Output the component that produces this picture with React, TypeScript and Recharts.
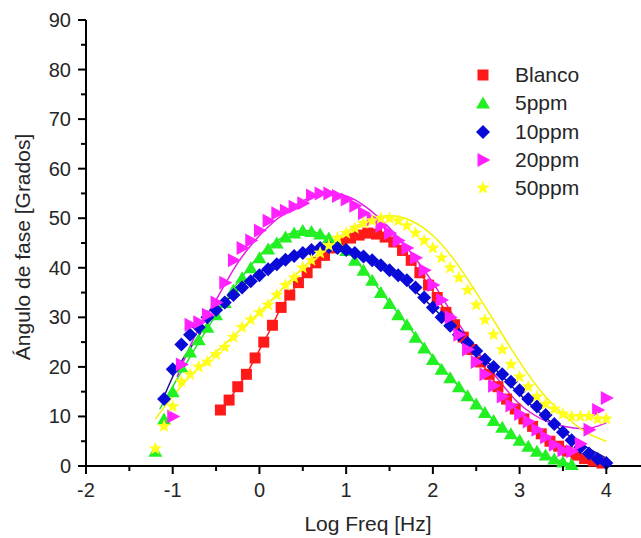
import {
  ComposedChart,
  Scatter,
  Line,
  XAxis,
  YAxis,
  Legend,
} from 'recharts';

// Frecuencias (log) y ángulos de fase
const blancoX = [-0.45, -0.35, -0.25, -0.15, -0.05, 0.05, 0.15, 0.25, 0.35, 0.45, 0.55, 0.65, 0.75, 0.85, 0.95, 1.05, 1.15, 1.25, 1.35, 1.45, 1.55, 1.65, 1.75, 1.85, 1.95, 2.05, 2.15, 2.25, 2.35, 2.45, 2.55, 2.65, 2.75, 2.85, 2.95, 3.05, 3.15, 3.25, 3.35, 3.45, 3.55, 3.65, 3.75, 3.85, 3.95];
const blancoY = [11.3, 13.3, 16, 18.5, 21.8, 25, 28.4, 32, 34.5, 37, 39, 41, 42.5, 44, 45.2, 46, 46.6, 47, 46.8, 46.2, 45.2, 43.5, 41.5, 39, 36.5, 34, 31, 28.5, 26, 23.5, 21, 18.5, 16, 13.5, 11.5, 9.5, 8, 6.5, 5, 4, 3, 2.2, 1.5, 1, 0.6];

const ppm5X = [-1.2, -1.1, -1.0, -0.9, -0.8, -0.7, -0.6, -0.5, -0.4, -0.3, -0.2, -0.1, 0, 0.1, 0.2, 0.3, 0.4, 0.5, 0.6, 0.7, 0.8, 0.9, 1.0, 1.1, 1.2, 1.3, 1.4, 1.5, 1.6, 1.7, 1.8, 1.9, 2.0, 2.1, 2.2, 2.3, 2.4, 2.5, 2.6, 2.7, 2.8, 2.9, 3.0, 3.1, 3.2, 3.3, 3.4, 3.5, 3.6];
const ppm5Y = [3, 9.5, 15, 20, 23, 25.5, 28, 30.5, 33, 35.5, 38, 40, 42, 43.8, 45, 46.2, 47, 47.5, 47.3, 46.8, 46, 45, 43.5, 41.5, 39.5, 37.5, 35, 32.8, 30.5, 28.5, 26, 23.8, 21.5, 19.5, 17.8, 16, 14.2, 12.5, 10.8, 9.2, 7.8, 6.5, 5.2, 4, 3, 2.2, 1.4, 0.8, 0.3];

const ppm10X = [-1.1, -1.0, -0.9, -0.8, -0.7, -0.6, -0.5, -0.4, -0.3, -0.2, -0.1, 0, 0.1, 0.2, 0.3, 0.4, 0.5, 0.6, 0.7, 0.8, 0.9, 1.0, 1.1, 1.2, 1.3, 1.4, 1.5, 1.6, 1.7, 1.8, 1.9, 2.0, 2.1, 2.2, 2.3, 2.4, 2.5, 2.6, 2.7, 2.8, 2.9, 3.0, 3.1, 3.2, 3.3, 3.4, 3.5, 3.6, 3.7, 3.8, 3.9, 4.0];
const ppm10Y = [13.5, 19.5, 24.5, 26.5, 28, 30, 31.5, 33, 34.5, 36, 37.3, 38.5, 39.7, 40.7, 41.6, 42.4, 43, 43.6, 44, 44.2, 44, 43.6, 43, 42.3, 41.5, 40.5, 39.5, 38.5, 37.5, 36, 34, 32, 30, 28.3, 26.5, 24.8, 23.2, 21.5, 20, 18.5, 17, 15.3, 13.5, 12, 10.3, 8.5, 6.8, 5.2, 3.8, 2.5, 1.4, 0.6];

const ppm20X = [-1.0, -0.9, -0.8, -0.7, -0.6, -0.5, -0.4, -0.3, -0.2, -0.1, 0, 0.1, 0.2, 0.3, 0.4, 0.5, 0.6, 0.7, 0.8, 0.9, 1.0, 1.1, 1.2, 1.3, 1.4, 1.5, 1.6, 1.7, 1.8, 1.9, 2.0, 2.1, 2.2, 2.3, 2.4, 2.5, 2.6, 2.7, 2.8, 2.9, 3.0, 3.1, 3.2, 3.3, 3.4, 3.5, 3.6, 3.7, 3.8, 3.9, 4.0];
const ppm20Y = [10, 20.5, 28.5, 29, 30.5, 33, 37, 41.5, 44, 45.5, 47.5, 49.5, 51, 51.5, 52.3, 53, 54.6, 55, 55, 54.5, 53.8, 52.5, 51, 49.8, 48.5, 47, 45.5, 44, 42, 39.5, 36.5, 33.5, 30, 26.5, 23.5, 21, 18.5, 16.2, 14, 12.2, 10.5, 9, 7.3, 5.8, 4.3, 3.2, 3, 4.5, 7.3, 11.3, 13.7];

const ppm50X = [-1.2, -1.1, -1.0, -0.9, -0.8, -0.7, -0.6, -0.5, -0.4, -0.3, -0.2, -0.1, 0, 0.1, 0.2, 0.3, 0.4, 0.5, 0.6, 0.7, 0.8, 0.9, 1.0, 1.1, 1.2, 1.3, 1.4, 1.5, 1.6, 1.7, 1.8, 1.9, 2.0, 2.1, 2.2, 2.3, 2.4, 2.5, 2.6, 2.7, 2.8, 2.9, 3.0, 3.1, 3.2, 3.3, 3.4, 3.5, 3.6, 3.7, 3.8, 3.9, 4.0];
const ppm50Y = [3.5, 8, 12, 17, 18.5, 20, 21, 22.5, 24, 26, 28, 29.5, 31, 32.5, 34.5, 36.5, 38, 40, 41.5, 43, 44.5, 46, 47, 48, 49, 49.5, 50, 50, 49.5, 48.5, 47, 45.5, 44, 42, 40, 38, 35.5, 32.5, 29.5, 26.5, 23.5, 20.5, 18, 16, 14, 12.5, 11.5, 10.5, 10, 10, 10, 9.5, 9.5];

// Curvas de ajuste
const fit5X = [-1.15, -1.0, -0.75, -0.5, -0.25, 0, 0.25, 0.5, 0.75, 1.0, 1.25, 1.5, 1.75, 2.0, 2.25, 2.5, 2.75, 3.0, 3.25, 3.5, 3.6];
const fit5Y = [11.5, 16, 23.5, 30.5, 37, 42.5, 46, 47.5, 46.5, 43.5, 38.5, 33, 27.5, 22, 17, 12.5, 8.5, 5, 2.5, 0.8, 0.3];
const fit10X = [-1.1, -1.0, -0.75, -0.5, -0.25, 0, 0.25, 0.5, 0.75, 1.0, 1.25, 1.5, 1.75, 2.0, 2.25, 2.5, 2.75, 3.0, 3.25, 3.5, 3.75, 4.0];
const fit10Y = [14, 18, 25, 31, 35.5, 39, 41.5, 43.2, 44, 43.5, 42, 39.5, 36, 32, 27.5, 23, 19, 14.5, 10.5, 7, 4, 1.6];
const fit20X = [-0.95, -0.75, -0.5, -0.25, 0, 0.25, 0.5, 0.75, 1.0, 1.25, 1.5, 1.75, 2.0, 2.25, 2.5, 2.75, 3.0, 3.25, 3.5, 3.75, 4.0];
const fit20Y = [18, 26, 33.5, 41, 46.5, 50.5, 53.5, 55, 54.5, 52, 48, 43, 37, 30, 23.5, 17.5, 12.5, 9.5, 8, 7.5, 8.7];
const fit50X = [-1.2, -1.0, -0.75, -0.5, -0.25, 0, 0.25, 0.5, 0.75, 1.0, 1.25, 1.5, 1.75, 2.0, 2.25, 2.5, 2.75, 3.0, 3.25, 3.5, 3.75, 4.0];
const fit50Y = [9.5, 14, 19, 23, 27, 31, 35.5, 40, 44, 47.2, 49.5, 50.5, 49.5, 46.5, 41.5, 35, 28, 21, 15, 10.5, 7, 5];

const xTicks = [-2, -1.5, -1, -0.5, 0, 0.5, 1, 1.5, 2, 2.5, 3, 3.5, 4];
const yTicks = [0, 5, 10, 15, 20, 25, 30, 35, 40, 45, 50, 55, 60, 65, 70, 75, 80, 85, 90];

const FONT = 'Arial, "Liberation Sans", sans-serif';
const TEXT = '#262626';

const pts = (xs: number[], ys: number[]) => xs.map((x, i) => ({ x, y: ys[i] }));

const series = [
  { name: 'Blanco', kind: 'square', color: '#ff1a1a', pts: pts(blancoX, blancoY) },
  { name: '5ppm', kind: 'triangle', color: '#22f022', pts: pts(ppm5X, ppm5Y) },
  { name: '10ppm', kind: 'diamond', color: '#0a0ad8', pts: pts(ppm10X, ppm10Y) },
  { name: '20ppm', kind: 'right', color: '#ff22ff', pts: pts(ppm20X, ppm20Y) },
  { name: '50ppm', kind: 'star', color: '#ffff1a', pts: pts(ppm50X, ppm50Y) },
];

const fits = [
  { key: 'f0', color: '#ff1a1a', pts: pts(blancoX, blancoY) },
  { key: 'f1', color: '#22e022', pts: pts(fit5X, fit5Y) },
  { key: 'f2', color: '#14148a', pts: pts(fit10X, fit10Y) },
  { key: 'f3', color: '#e020e0', pts: pts(fit20X, fit20Y) },
  { key: 'f4', color: '#f2f200', pts: pts(fit50X, fit50Y) },
];

function Marker({ kind, cx, cy, color }: { kind: string; cx: number; cy: number; color: string }) {
  if (cx == null || cy == null) return null;
  if (kind === 'square') {
    return <rect x={cx - 5.5} y={cy - 5.5} width={11} height={11} fill={color} />;
  }
  if (kind === 'triangle') {
    return <polygon points={`${cx},${cy - 6.5} ${cx + 7},${cy + 5.5} ${cx - 7},${cy + 5.5}`} fill={color} />;
  }
  if (kind === 'diamond') {
    return <polygon points={`${cx},${cy - 7} ${cx + 7},${cy} ${cx},${cy + 7} ${cx - 7},${cy}`} fill={color} />;
  }
  if (kind === 'right') {
    return <polygon points={`${cx - 5.5},${cy - 7} ${cx + 7.5},${cy} ${cx - 5.5},${cy + 7}`} fill={color} />;
  }
  // estrella de 5 puntas
  const p: string[] = [];
  for (let i = 0; i < 10; i++) {
    const r = i % 2 === 0 ? 7 : 3;
    const a = -Math.PI / 2 + (i * Math.PI) / 5;
    p.push(`${cx + r * Math.cos(a)},${cy + r * Math.sin(a)}`);
  }
  return <polygon points={p.join(' ')} fill={color} />;
}

const BottomTick = ({ x, y, payload }: any) => {
  const major = Number.isInteger(payload.value);
  return (
    <g>
      <line x1={x} x2={x} y1={y} y2={y + (major ? 8 : 5)} stroke="#000" strokeWidth={2} />
      {major && (
        <text x={x} y={y + 31} textAnchor="middle" fontSize={20} fontFamily={FONT} fill={TEXT}>
          {payload.value}
        </text>
      )}
    </g>
  );
};

const TopTick = ({ x, y }: any) => (
  <line x1={x} x2={x} y1={y} y2={y + 7} stroke="#000" strokeWidth={2} />
);

const LeftTick = ({ x, y, payload }: any) => {
  const major = payload.value % 10 === 0;
  return (
    <g>
      <line x1={x - (major ? 8 : 5)} x2={x} y1={y} y2={y} stroke="#000" strokeWidth={2} />
      {major && (
        <text x={x - 15} y={y + 7} textAnchor="end" fontSize={20} fontFamily={FONT} fill={TEXT}>
          {payload.value}
        </text>
      )}
    </g>
  );
};

const LegendBox = () => (
  <div style={{ fontFamily: FONT, fontSize: 21, color: TEXT }}>
    {series.map((s) => (
      <div key={s.name} style={{ display: 'flex', alignItems: 'center', height: 28.3 }}>
        <svg width={18} height={18} style={{ marginRight: 23 }}>
          <Marker kind={s.kind} cx={9} cy={9} color={s.color} />
        </svg>
        <span>{s.name}</span>
      </div>
    ))}
  </div>
);

export default function App() {
  return (
    <div style={{ position: 'absolute', left: 0, top: 0, width: 641, height: 538, background: '#fff', overflow: 'hidden' }}>
      <ComposedChart width={641} height={538} margin={{ top: 20, right: 0, bottom: 0, left: 0 }}>
        <XAxis
          dataKey="x"
          type="number"
          domain={[-2, 4.4]}
          ticks={xTicks}
          allowDataOverflow
          height={72}
          tickSize={0}
          tickMargin={0}
          tickLine={false}
          tick={<BottomTick />}
          axisLine={{ stroke: '#000', strokeWidth: 2 }}
          interval={0}
        />
        <XAxis
          xAxisId="top"
          orientation="top"
          type="number"
          domain={[-2, 4.4]}
          ticks={xTicks}
          allowDataOverflow
          height={0}
          tickSize={0}
          tickMargin={0}
          tickLine={false}
          tick={<TopTick />}
          axisLine={{ stroke: '#000', strokeWidth: 2 }}
          interval={0}
        />
        <YAxis
          dataKey="y"
          type="number"
          domain={[0, 90]}
          ticks={yTicks}
          width={86}
          tickSize={0}
          tickMargin={0}
          tickLine={false}
          tick={<LeftTick />}
          axisLine={{ stroke: '#000', strokeWidth: 2 }}
          interval={0}
        />

        {series.map((s) => (
          <Scatter
            key={s.name}
            name={s.name}
            data={s.pts}
            fill={s.color}
            isAnimationActive={false}
            shape={(p: any) => <Marker kind={s.kind} cx={p.cx} cy={p.cy} color={s.color} />}
          />
        ))}

        {fits.map((f) => (
          <Line
            key={f.key}
            data={f.pts}
            dataKey="y"
            type="monotone"
            stroke={f.color}
            strokeWidth={1.5}
            dot={false}
            activeDot={false}
            legendType="none"
            isAnimationActive={false}
          />
        ))}

        <Legend
          layout="vertical"
          align="center"
          verticalAlign="middle"
          content={<LegendBox />}
          wrapperStyle={{ top: 61, left: 474, width: 160 }}
        />

        <text x={368} y={531} textAnchor="middle" fontSize={21} fontFamily={FONT} fill={TEXT}>
          Log Freq [Hz]
        </text>
        <text
          x={30}
          y={247}
          textAnchor="middle"
          fontSize={21}
          fontFamily={FONT}
          fill={TEXT}
          transform="rotate(-90 30 247)"
        >
          Ángulo de fase [Grados]
        </text>
      </ComposedChart>
    </div>
  );
}
